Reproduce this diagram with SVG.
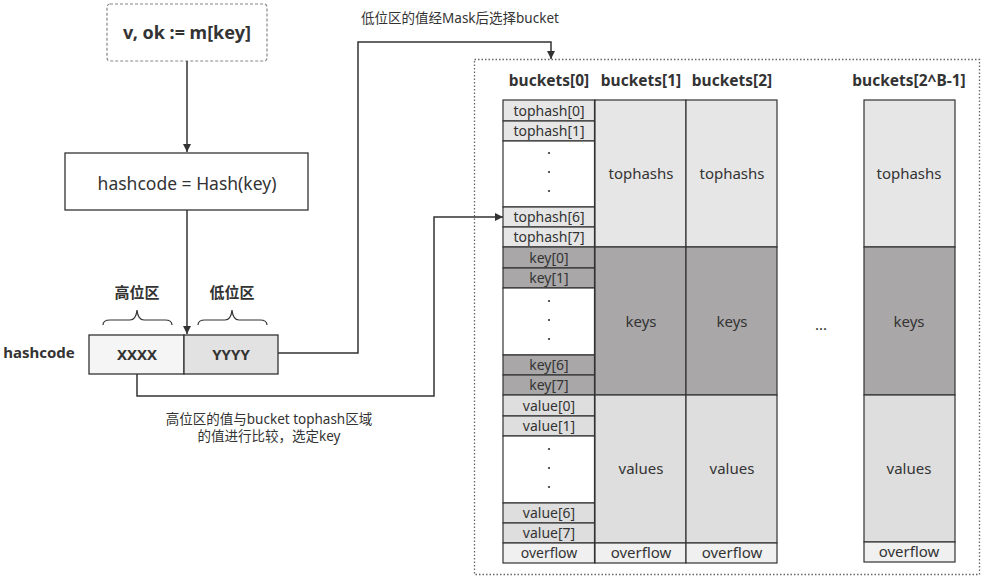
<svg xmlns="http://www.w3.org/2000/svg" width="991" height="582" viewBox="0 0 991 582">
<defs>
<marker id="arr" viewBox="0 0 10 10" refX="10" refY="5" markerWidth="8" markerHeight="8" markerUnits="userSpaceOnUse" orient="auto">
<path d="M0,0 L10,5 L0,10 z" fill="#333"/>
</marker>
<style>
text{font-family:"Noto Sans","Open Sans","Noto Sans CJK SC",sans-serif;fill:#333;text-anchor:middle}
.b{font-weight:bold}
.row{font-size:14px}
.big{font-size:15px}
.hd{font-size:15.5px;font-weight:bold}
.line{fill:none;stroke:#333;stroke-width:1.5}
.cell{stroke:#333;stroke-width:1.2}
.th{fill:#e6e6e6}
.ky{fill:#a9a7a8}
.vl{fill:#dedede}
.of{fill:#f0f0f0}
.wh{fill:#fff}
.lbl{font-size:13.5px}
</style>
</defs>
<rect width="991" height="582" fill="#fff"/>

<g id="container">
<rect x="474.5" y="59.5" width="505" height="515" fill="none" stroke="#666" stroke-width="1.3" stroke-dasharray="1.5,2"/>
</g>

<g id="lookup">
<rect x="107" y="4" width="160" height="57" rx="3" fill="#fff" stroke="#888" stroke-width="1.2" stroke-dasharray="3,2"/>
<text x="187" y="39" class="b" font-size="18">v, ok :=  m[key]</text>
</g>

<g id="hash">
<rect x="65" y="153" width="243" height="57" fill="#fff" stroke="#333" stroke-width="1.3"/>
<text x="187" y="190" font-size="17.5">hashcode = Hash(key)</text>
</g>

<g id="hashcode">
<text x="39" y="358" class="b" font-size="15">hashcode</text>
<rect x="89" y="335" width="95" height="39" fill="#f5f5f5" stroke="#333" stroke-width="1.3"/>
<rect x="184" y="335" width="94" height="39" fill="#e2e2e2" stroke="#333" stroke-width="1.3"/>
<text x="137" y="360" class="b" font-size="15">XXXX</text>
<text x="231" y="360" class="b" font-size="15">YYYY</text>
<text x="137" y="298" class="b" font-size="15">高位区</text>
<text x="232" y="298" class="b" font-size="15">低位区</text>
<path d="M103,325 Q103,320 110,320 L130,320 Q136,320 137,310 Q138,320 144,320 L165,320 Q172,320 172,325" fill="none" stroke="#333" stroke-width="1.2"/>
<path d="M198,325 Q198,320 205,320 L225,320 Q231,320 232,310 Q233,320 239,320 L260,320 Q267,320 267,325" fill="none" stroke="#333" stroke-width="1.2"/>
</g>

<g id="connectors">
<path class="line" d="M187,61 L187,152" marker-end="url(#arr)"/>
<path class="line" d="M187,210 L187,334" marker-end="url(#arr)"/>
<path class="line" d="M278,353 L358,353 L358,42 L551,42 L551,59" marker-end="url(#arr)"/>
<path class="line" d="M137,374 L137,396 L434,396 L434,217 L503,217" marker-end="url(#arr)"/>
<text x="460" y="23" class="lbl" font-size="14">低位区的值经Mask后选择bucket</text>
<text x="269" y="424" class="lbl">高位区的值与bucket tophash区域</text>
<text x="269" y="441" class="lbl">的值进行比较，选定key</text>
</g>

<g id="bucket0">
<text x="549" y="86" class="hd">buckets[0]</text>
<rect class="cell th" x="503" y="100" width="92" height="21"/>
<rect class="cell th" x="503" y="121" width="92" height="20"/>
<rect class="cell wh" x="503" y="141" width="92" height="66"/>
<rect class="cell th" x="503" y="207" width="92" height="20"/>
<rect class="cell th" x="503" y="227" width="92" height="20"/>
<rect class="cell ky" x="503" y="247" width="92" height="21"/>
<rect class="cell ky" x="503" y="268" width="92" height="20"/>
<rect class="cell wh" x="503" y="288" width="92" height="67"/>
<rect class="cell ky" x="503" y="355" width="92" height="20"/>
<rect class="cell ky" x="503" y="375" width="92" height="20"/>
<rect class="cell vl" x="503" y="395" width="92" height="21"/>
<rect class="cell vl" x="503" y="416" width="92" height="20"/>
<rect class="cell wh" x="503" y="436" width="92" height="67"/>
<rect class="cell vl" x="503" y="503" width="92" height="20"/>
<rect class="cell vl" x="503" y="523" width="92" height="20"/>
<rect class="cell of" x="503" y="543" width="92" height="20"/>
<line x1="595" y1="100" x2="595" y2="563" stroke="#333" stroke-width="2.2"/>
<text x="549" y="116" class="row">tophash[0]</text>
<text x="549" y="136" class="row">tophash[1]</text>
<text x="549" y="222" class="row">tophash[6]</text>
<text x="549" y="242" class="row">tophash[7]</text>
<text x="549" y="263" class="row">key[0]</text>
<text x="549" y="283" class="row">key[1]</text>
<text x="549" y="370" class="row">key[6]</text>
<text x="549" y="390" class="row">key[7]</text>
<text x="549" y="411" class="row">value[0]</text>
<text x="549" y="431" class="row">value[1]</text>
<text x="549" y="518" class="row">value[6]</text>
<text x="549" y="538" class="row">value[7]</text>
<text x="549" y="558" class="row">overflow</text>
<g fill="#333">
<circle cx="549" cy="153" r="1.1"/><circle cx="549" cy="172" r="1.1"/><circle cx="549" cy="191" r="1.1"/>
<circle cx="549" cy="301" r="1.1"/><circle cx="549" cy="320" r="1.1"/><circle cx="549" cy="339" r="1.1"/>
<circle cx="549" cy="449" r="1.1"/><circle cx="549" cy="468" r="1.1"/><circle cx="549" cy="487" r="1.1"/>
</g>
</g>

<g id="bucket1">
<text x="641" y="86" class="hd">buckets[1]</text>
<rect class="cell th" x="595" y="100" width="91" height="147"/>
<rect class="cell ky" x="595" y="247" width="91" height="148"/>
<rect class="cell vl" x="595" y="395" width="91" height="148"/>
<rect class="cell of" x="595" y="543" width="91" height="20"/>
<text x="641" y="179" class="big">tophashs</text>
<text x="641" y="327" class="big">keys</text>
<text x="641" y="474" class="big">values</text>
<text x="641" y="558" class="big">overflow</text>
</g>

<g id="bucket2">
<text x="732" y="86" class="hd">buckets[2]</text>
<rect class="cell th" x="686" y="100" width="91" height="147"/>
<rect class="cell ky" x="686" y="247" width="91" height="148"/>
<rect class="cell vl" x="686" y="395" width="91" height="148"/>
<rect class="cell of" x="686" y="543" width="91" height="20"/>
<text x="732" y="179" class="big">tophashs</text>
<text x="732" y="327" class="big">keys</text>
<text x="732" y="474" class="big">values</text>
<text x="732" y="558" class="big">overflow</text>
</g>

<g id="ellipsis">
<text x="821" y="330" class="big">...</text>
</g>

<g id="bucketN">
<text x="909" y="86" class="hd">buckets[2^B-1]</text>
<rect class="cell th" x="864" y="100" width="91" height="147"/>
<rect class="cell ky" x="864" y="247" width="91" height="148"/>
<rect class="cell vl" x="864" y="395" width="91" height="147"/>
<rect class="cell of" x="864" y="542" width="91" height="20"/>
<text x="909" y="179" class="big">tophashs</text>
<text x="909" y="327" class="big">keys</text>
<text x="909" y="474" class="big">values</text>
<text x="909" y="557" class="big">overflow</text>
</g>
</svg>
